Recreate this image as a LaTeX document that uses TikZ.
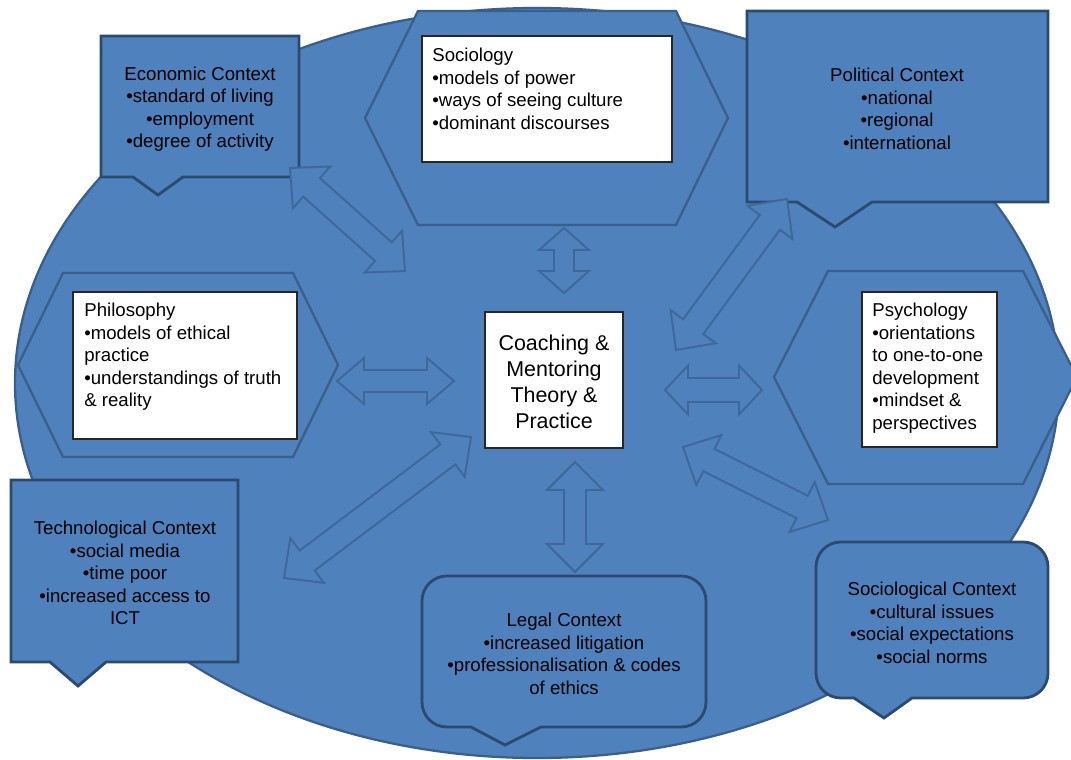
\documentclass[tikz,border=0pt]{standalone}
\usepackage{fontspec}
\setmainfont{Liberation Sans}
\usetikzlibrary{calc}
\definecolor{fillblue}{HTML}{4F81BD}
\definecolor{edgeblue}{HTML}{3A5F8B}
\definecolor{calloutedge}{HTML}{2B4A70}
\definecolor{arrowedge}{HTML}{3F6899}
\definecolor{boxedge}{HTML}{262626}
\tikzset{
  bigshape/.style={fill=fillblue, draw=edgeblue, line width=1.3pt, line join=round},
  hexshape/.style={fill=fillblue, draw=edgeblue, line width=1.3pt, line join=miter},
  callout/.style={fill=fillblue, draw=calloutedge, line width=1.6pt, line join=miter},
  whitebox/.style={fill=white, draw=boxedge, line width=0.7pt},
  arrowshape/.style={fill=fillblue, draw=arrowedge, line width=1.1pt, line join=miter},
  ctext/.style={align=center, inner sep=0pt, font=\fontsize{10.6}{12.8}\selectfont},
  ltext/.style={align=left, inner sep=0pt, font=\fontsize{10.6}{12.8}\selectfont},
  mtext/.style={align=center, inner sep=0pt, font=\fontsize{12.2}{14.8}\selectfont}
}
\newcommand\blockarrow[5]{%
  \path ($(#1)!#3!(#2)$) coordinate (ba) ($(#2)!#3!(#1)$) coordinate (bb);
  \draw[arrowshape] (#1) -- ($(ba)!#4!90:(#2)$) -- ($(ba)!#5!90:(#2)$)
    -- ($(bb)!#5!-90:(#1)$) -- ($(bb)!#4!-90:(#1)$) -- (#2)
    -- ($(bb)!#4!90:(#1)$) -- ($(bb)!#5!90:(#1)$)
    -- ($(ba)!#5!-90:(#2)$) -- ($(ba)!#4!-90:(#2)$) -- cycle;}
\begin{document}
\begin{tikzpicture}[x=0.02cm, y=-0.02cm]
\fill[white] (0,0) rectangle (1071,760);
\clip (0,0) rectangle (1071,760);
% big ellipse
\draw[bigshape] (537,383) ellipse [x radius=522, y radius=375];
% hexagons
\draw[hexshape] (418,11) -- (676,11) -- (728,118) -- (676,225) -- (418,225) -- (365,118) -- cycle;
\draw[hexshape] (63,273) -- (293,273) -- (338,365) -- (293,457) -- (63,457) -- (18,365) -- cycle;
\draw[hexshape] (828,271) -- (1023,271) -- (1077,377) -- (1023,484) -- (828,484) -- (774,377) -- cycle;
% white boxes
\draw[whitebox] (422,36) rectangle (672,162);
\draw[whitebox] (73,292) rectangle (297,439);
\draw[whitebox] (862,292) rectangle (997,447);
\draw[whitebox] (485,312) rectangle (623,448);
% callouts
\draw[callout] (101,36) -- (299,36) -- (299,177) -- (183,177) -- (158,195) -- (133,177) -- (101,177) -- cycle;
\draw[callout] (747,11) -- (1048,11) -- (1048,202) -- (872,202) -- (835,227) -- (797,202) -- (747,202) -- cycle;
\draw[callout] (11,480) -- (238,480) -- (238,662) -- (106,662) -- (78,686) -- (50,662) -- (11,662) -- cycle;
\draw[callout] (471,727) -- (447,727) .. controls (433,727) and (422,716) .. (422,702) -- (422,601)
  .. controls (422,587) and (433,576) .. (447,576) -- (681,576) .. controls (695,576) and (706,587) .. (706,601)
  -- (706,702) .. controls (706,716) and (695,727) .. (681,727) -- (541,727) -- (505,745) -- cycle;
\draw[callout] (854,698) -- (841,698) .. controls (827,698) and (816,687) .. (816,673) -- (816,567)
  .. controls (816,553) and (827,542) .. (841,542) -- (1023,542) .. controls (1037,542) and (1048,553) .. (1048,567)
  -- (1048,673) .. controls (1048,687) and (1037,698) .. (1023,698) -- (912,698) -- (884,718) -- cycle;
% texts
\node[ctext] (econ) at (200,109) {Economic Context\\•standard of living\\•employment\\•degree of activity};
\node[ctext] (polit) at (897,109) {Political Context\\•national\\•regional\\•international};
\node[ctext] (tech) at (125,573) {Technological Context\\•social media\\•time poor\\•increased access to\\ICT};
\node[ctext] (legal) at (564,654) {Legal Context\\•increased litigation\\•professionalisation \& codes\\of ethics};
\node[ctext] (socctx) at (932,623) {Sociological Context\\•cultural issues\\•social expectations\\•social norms};
\node[ltext, anchor=west] (soc) at (432,89) {Sociology\\•models of power\\•ways of seeing culture\\•dominant discourses};
\node[ltext, anchor=west] (phil) at (84,357) {Philosophy\\•models of ethical\\practice\\•understandings of truth\\\& reality};
\node[ltext, anchor=west] (psych) at (872,368) {Psychology\\•orientations\\to one-to-one\\development\\•mindset \&\\perspectives};
\node[mtext] (core) at (554,382) {Coaching \&\\Mentoring\\Theory \&\\Practice};
% arrow end points
\coordinate (ea) at (290,168); \coordinate (eb) at (405,271);
\coordinate (pa) at (787,199); \coordinate (pb) at (676,350);
\coordinate (ta) at (284,578); \coordinate (tb) at (471,437);
\coordinate (sa) at (828,520); \coordinate (sb) at (683,447);
\coordinate (va) at (564,228); \coordinate (vb) at (564,293);
\coordinate (la) at (575,462); \coordinate (lb) at (575,572);
\coordinate (ha) at (337,381); \coordinate (hb) at (454,381);
\coordinate (ra) at (665,390); \coordinate (rb) at (762,390);
% arrows
\blockarrow{ea}{eb}{0.58cm}{0.56cm}{0.25cm}
\blockarrow{pa}{pb}{0.58cm}{0.56cm}{0.25cm}
\blockarrow{ta}{tb}{0.58cm}{0.56cm}{0.25cm}
\blockarrow{sa}{sb}{0.58cm}{0.56cm}{0.25cm}
\blockarrow{va}{vb}{0.44cm}{0.50cm}{0.20cm}
\blockarrow{la}{lb}{0.56cm}{0.56cm}{0.22cm}
\blockarrow{ha}{hb}{0.54cm}{0.46cm}{0.22cm}
\blockarrow{ra}{rb}{0.46cm}{0.49cm}{0.24cm}
\end{tikzpicture}
\end{document}
